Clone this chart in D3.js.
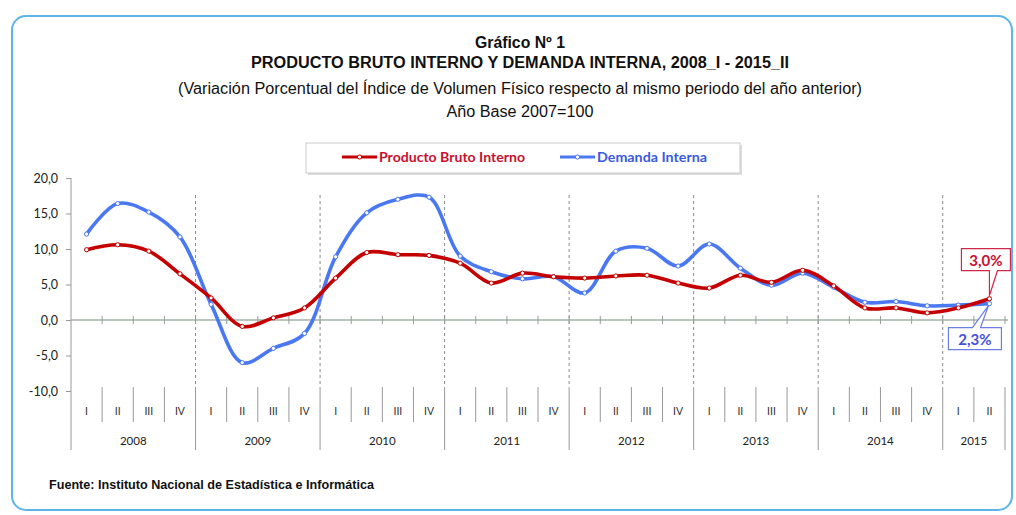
<!DOCTYPE html>
<html><head><meta charset="utf-8">
<script src="https://cdn.jsdelivr.net/npm/d3@7"></script>
<style>
html,body{margin:0;padding:0;background:#fff;}
svg{display:block;}
</style></head>
<body><svg id="c" width="1016" height="515"></svg>
<script>
const years = ["2008","2009","2010","2011","2012","2013","2014","2015"];
const quarterNames = ["I","II","III","IV"];
const categories = [
 "2008-I","2008-II","2008-III","2008-IV","2009-I","2009-II","2009-III","2009-IV",
 "2010-I","2010-II","2010-III","2010-IV","2011-I","2011-II","2011-III","2011-IV",
 "2012-I","2012-II","2012-III","2012-IV","2013-I","2013-II","2013-III","2013-IV",
 "2014-I","2014-II","2014-III","2014-IV","2015-I","2015-II"];
const pbi = [9.9,10.6,9.7,6.5, 3.1,-0.9,0.3,1.7, 5.9,9.5,9.2,9.1, 8.0,5.2,6.6,6.1,
             5.9,6.2,6.3,5.2, 4.5,6.3,5.3,7.0, 4.8,1.7,1.7,1.0, 1.7,3.0];
const demanda = [12.1,16.4,15.2,11.7, 2.2,-6.0,-4.0,-1.9, 8.9,15.1,17.0,17.3, 9.0,6.8,5.8,6.1,
                 3.8,9.7,10.1,7.6, 10.7,7.3,4.9,6.6, 4.6,2.5,2.6,2.0, 2.1,2.3];
const yTicks = [-10,-5,0,5,10,15,20];
const seriesNames = ["Producto Bruto Interno","Demanda Interna"];
const lastLabels = ["3,0%","2,3%"];

const RED = "#c40000", BLUE = "#4a78f2";
const svg = d3.select("#c");

// frame
svg.append("rect").attr("x",12).attr("y",16).attr("width",1000).attr("height",494)
  .attr("rx",14).attr("fill","#fff").attr("stroke","#5cb4ea").attr("stroke-width",2);

// titles
const tf = "'Liberation Sans Narrow','Arial Narrow','Liberation Sans',Arial,sans-serif";
const titles = [
  {t:"Gráfico Nº 1", y:48, w:90, b:true},
  {t:"PRODUCTO BRUTO INTERNO Y DEMANDA INTERNA, 2008_I - 2015_II", y:68, w:538, b:true},
  {t:"(Variación Porcentual del Índice de Volumen Físico respecto al mismo periodo del año anterior)", y:94, w:684, b:false},
  {t:"Año Base 2007=100", y:117, w:147, b:false}
];
titles.forEach(d=>{
  svg.append("text").attr("x",520).attr("y",d.y).attr("text-anchor","middle")
    .attr("font-family",tf).attr("font-size",16).attr("font-weight",d.b?"bold":"normal")
    .attr("fill","#111").attr("textLength",d.w).attr("lengthAdjust","spacingAndGlyphs").text(d.t);
});

// scales
const x = d3.scaleBand().domain(d3.range(categories.length)).range([71,1005]).padding(0);
const bw = x.bandwidth();
const y = d3.scaleLinear().domain([-10,20]).range([391,178]);
const cx = i => x(i)+bw/2;

// y axis
const yAxis = d3.axisLeft(y).tickValues(yTicks).tickSize(5).tickPadding(8)
  .tickFormat(d=>d3.format(".1f")(d).replace(".",",").replace("−","-"));
const ga = svg.append("g").attr("transform","translate(71,0)").call(yAxis);
ga.select(".domain").remove();
ga.selectAll("line").attr("stroke","#999");
ga.selectAll("text").attr("font-family","Lato, 'Open Sans', sans-serif").attr("font-size",12.5).attr("fill","#222");
svg.append("line").attr("x1",71).attr("x2",71).attr("y1",y(20)).attr("y2",450).attr("stroke","#999");

// year dashed lines
const yearIdx = d3.range(4,30,4);
svg.selectAll(".dash").data(yearIdx).join("line")
  .attr("x1",i=>x(i)).attr("x2",i=>x(i)).attr("y1",y(17.6)).attr("y2",387)
  .attr("stroke","#888").attr("stroke-dasharray","3,3").attr("stroke-width",1);

// zero line & ticks
svg.append("line").attr("x1",71).attr("x2",1008).attr("y1",y(0)).attr("y2",y(0))
  .attr("stroke","#a5b2a5").attr("stroke-width",1.5);
svg.selectAll(".zt").data(d3.range(1,31)).join("line")
  .attr("x1",i=>i<30?x(i):1005).attr("x2",i=>i<30?x(i):1005)
  .attr("y1",y(0)-4).attr("y2",y(0)+4).attr("stroke","#999");

// category label separators
svg.selectAll(".qs").data(d3.range(1,31)).join("line")
  .attr("x1",i=>i<30?x(i):1005).attr("x2",i=>i<30?x(i):1005)
  .attr("y1",387).attr("y2",i=>(i%4===0||i===30)?450:422).attr("stroke","#999");

// quarter labels
svg.selectAll(".ql").data(categories).join("text")
  .attr("x",(d,i)=>cx(i)).attr("y",415).attr("text-anchor","middle")
  .attr("font-family","Lato, sans-serif").attr("font-size",10.5).attr("fill","#333")
  .text(d=>d.split("-")[1]);
// year labels
svg.selectAll(".yl").data(years).join("text")
  .attr("x",(d,k)=>{const a=k*4, b=Math.min(k*4+3,29); return (x(a)+x(b)+bw)/2;})
  .attr("y",445).attr("text-anchor","middle")
  .attr("font-family","Lato, sans-serif").attr("font-size",11.5).attr("fill","#222").text(d=>d);

// lines
const line = d3.line().x((d,i)=>cx(i)).y(d=>y(d)).curve(d3.curveCatmullRom.alpha(0.5));
[[demanda,BLUE],[pbi,RED]].forEach(([data,col])=>{
  svg.append("path").attr("d",line(data)).attr("fill","none").attr("stroke",col)
    .attr("stroke-width",3.6).attr("stroke-linecap","round").attr("stroke-linejoin","round");
  svg.append("g").selectAll("circle").data(data).join("circle")
    .attr("cx",(d,i)=>cx(i)).attr("cy",d=>y(d)).attr("r",2.1)
    .attr("fill","#fff").attr("stroke",col).attr("stroke-width",1);
});

// legend
svg.append("rect").attr("x",308).attr("y",145).attr("width",434).attr("height",30).attr("fill","#ddd");
svg.append("rect").attr("x",306).attr("y",143).attr("width",434).attr("height",30)
  .attr("fill","#fff").attr("stroke","#ccc");
const leg = [{c:RED,x1:342,tx:379,w:146,tc:"#c8102e"},{c:BLUE,x1:560,tx:597,w:110,tc:"#3a5ae0"}];
leg.forEach((d,k)=>{
  svg.append("line").attr("x1",d.x1).attr("x2",d.x1+35).attr("y1",157).attr("y2",157)
    .attr("stroke",d.c).attr("stroke-width",3);
  svg.append("circle").attr("cx",d.x1+17.5).attr("cy",157).attr("r",2.1).attr("fill","#fff").attr("stroke",d.c);
  svg.append("text").attr("x",d.tx).attr("y",161.5).attr("font-family","Lato, sans-serif")
    .attr("font-weight","bold").attr("font-size",12.5).attr("fill",d.tc)
    .attr("textLength",d.w).attr("lengthAdjust","spacingAndGlyphs").text(seriesNames[k]);
});

// callouts
const n = categories.length-1;
const tx = cx(n), tyR = y(pbi[n]), tyB = y(demanda[n]);
svg.append("path")
  .attr("d",`M${tx-28},${tyR-50} H${tx+21} V${tyR-28} H${tx+8} L${tx},${tyR-3} L${tx},${tyR-28} H${tx-28} Z`)
  .attr("fill","#fff").attr("stroke","#d0284a").attr("stroke-width",1.2);
svg.append("text").attr("x",tx-3.5).attr("y",tyR-33).attr("text-anchor","middle")
  .attr("font-family","Lato, sans-serif").attr("font-weight","bold").attr("font-size",15)
  .attr("fill","#c8102e").text(lastLabels[0]);
svg.append("path")
  .attr("d",`M${tx-41},${tyB+24} H${tx-17} L${tx-1},${tyB+2} L${tx-9},${tyB+24} H${tx+12} V${tyB+46} H${tx-41} Z`)
  .attr("fill","#fff").attr("stroke","#6a7fe6").attr("stroke-width",1.2);
svg.append("text").attr("x",tx-14.5).attr("y",tyB+41).attr("text-anchor","middle")
  .attr("font-family","Lato, sans-serif").attr("font-weight","bold").attr("font-size",15)
  .attr("fill","#4650d8").text(lastLabels[1]);

// source
svg.append("text").attr("x",49).attr("y",489).attr("font-family",tf).attr("font-weight","bold")
  .attr("font-size",12.5).attr("fill","#111").attr("textLength",325).attr("lengthAdjust","spacingAndGlyphs")
  .text("Fuente: Instituto Nacional de Estadística e Informática");
</script></body></html>
